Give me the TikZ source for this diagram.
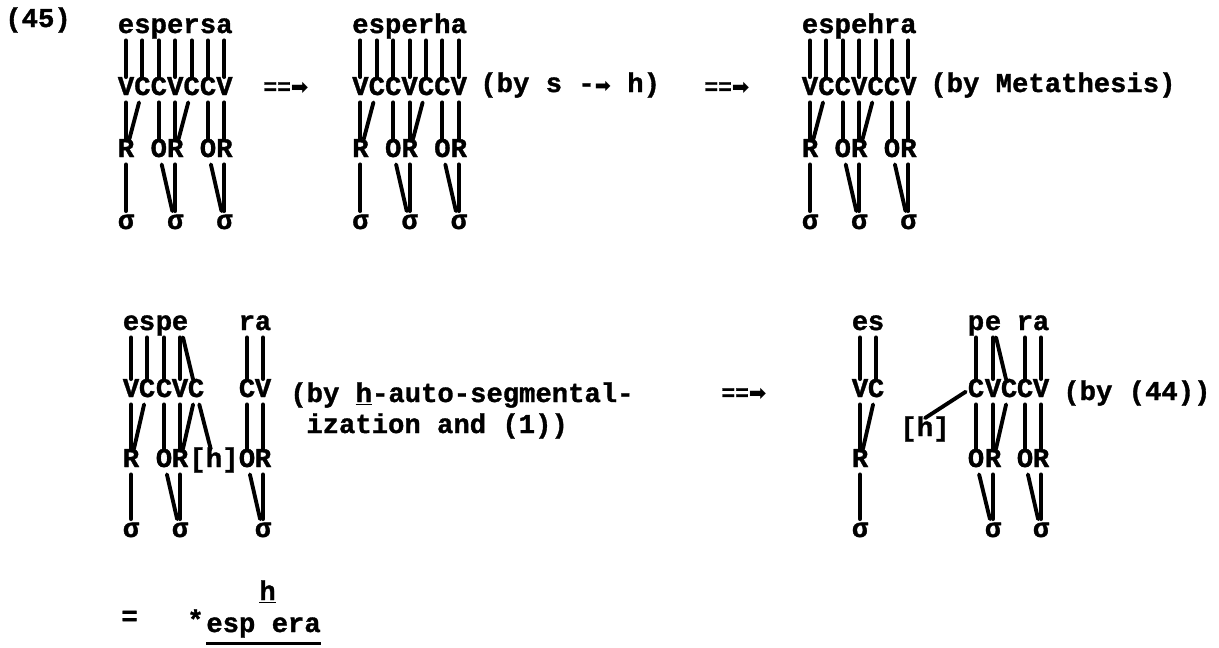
\documentclass[tikz,border=0pt]{standalone}
\usepackage{fontspec}
\newfontfamily\typer{Liberation Mono}[BoldFeatures={FakeBold=1.2}]
\newfontfamily\dingfont{DejaVu Sans}

\begin{document}
\begin{tikzpicture}[x=0.02cm,y=-0.02cm,
  seg/.style={font=\typer\bfseries\fontsize{15.5}{18}\selectfont,inner sep=1pt,text height=9pt,text depth=3pt,anchor=base},
  gloss/.style={font=\typer\bfseries\fontsize{15.5}{18}\selectfont,inner sep=0pt,anchor=base west},
  rewrite/.style={font=\typer\bfseries\fontsize{13}{13}\selectfont,inner sep=0pt},
  link/.style={line width=2.2pt,line cap=round}]
  \useasboundingbox (0,0) rectangle (1219,647);
  \node[gloss] (num) at (5,27) {(45)};
  % fila de arriba: espersa, esperha, espehra
  \foreach \d/\xo/\word in {a/109.6/{e,s,p,e,r,s,a},b/344/{e,s,p,e,r,h,a},c/793.6/{e,s,p,e,h,r,a}}{
    \foreach \l [count=\i] in \word
      \node[seg] (\d-\i) at (\xo+16.4*\i,33) {\l};
    \foreach \l [count=\i] in {V,C,C,V,C,C,V}
      \node[seg] (\d-cv\i) at (\xo+16.4*\i,95) {\l};
    \foreach \n/\k/\l in {r1/1/R,o2/3/O,r2/4/R,o3/6/O,r3/7/R}
      \node[seg] (\d-\n) at (\xo+16.4*\k,157) {\l};
    \foreach \k [count=\i] in {1,4,7}
      \node[seg] (\d-sg\i) at (\xo+16.4*\k,229) {σ};
    \foreach \i in {1,...,7}
      \draw[link] (\d-\i) -- (\d-cv\i);
    \foreach \a/\b in {cv1/r1,cv2/r1,cv3/o2,cv4/r2,cv5/r2,cv6/o3,cv7/r3,r1/sg1,o2/sg2,r2/sg2,o3/sg3,r3/sg3}
      \draw[link] (\d-\a) -- (\d-\b);
  }
  \foreach \n/\x/\y in {1/286/88,2/727/88,3/744/394}
    \node[rewrite] (arr\n) at (\x,\y) {=={\dingfont\fontsize{12}{12}\selectfont ➡}};
  \node[gloss] (rule1) at (480,92) {(by s -{\dingfont\fontsize{11}{11}\selectfont ➡} h)};
  \node[gloss] (rule2) at (930,92) {(by Metathesis)};
  % fila de abajo, izquierda
  \foreach \x/\l [count=\i] in {131/e,147/s,164/p,180/e,247/r,263/a}
    \node[seg] (d-\i) at (\x,330) {\l};
  \foreach \x/\l [count=\i] in {131/V,147/C,164/C,180/V,196/C,247/C,263/V}
    \node[seg] (d-cv\i) at (\x,397) {\l};
  \foreach \x/\n/\l in {131/r1/R,164/o2/O,180/r2/R,247/o3/O,263/r3/R}
    \node[seg] (d-\n) at (\x,467) {\l};
  \node[seg] (d-h) at (214,467) {[h]};
  \foreach \x [count=\i] in {131,180,263}
    \node[seg] (d-sg\i) at (\x,537) {σ};
  \foreach \a/\b in {1/cv1,2/cv2,3/cv3,4/cv4,4/cv5,5/cv6,6/cv7,cv1/r1,cv2/r1,cv3/o2,cv4/r2,cv5/r2,cv5/h,cv6/o3,cv7/r3,r1/sg1,o2/sg2,r2/sg2,o3/sg3,r3/sg3}
    \draw[link] (d-\a) -- (d-\b);
  \node[gloss] (rule3) at (290,402) {(by \underline{h}-auto-segmental-};
  \node[gloss] (rule3b) at (306,433) {ization and (1))};
  % fila de abajo, derecha
  \foreach \x/\l [count=\i] in {860/e,876/s,976/p,993/e,1025/r,1041/a}
    \node[seg] (e-\i) at (\x,330) {\l};
  \foreach \x/\l [count=\i] in {860/V,876/C,976/C,993/V,1009/C,1025/C,1041/V}
    \node[seg] (e-cv\i) at (\x,397) {\l};
  \foreach \x/\n/\l in {860/r1/R,976/o2/O,993/r2/R,1025/o3/O,1041/r3/R}
    \node[seg] (e-\n) at (\x,467) {\l};
  \node[seg] (e-h) at (925,436) {[h]};
  \foreach \x [count=\i] in {860,993,1041}
    \node[seg] (e-sg\i) at (\x,537) {σ};
  \foreach \a/\b in {1/cv1,2/cv2,3/cv3,4/cv4,4/cv5,5/cv6,6/cv7,cv1/r1,cv2/r1,cv3/o2,cv4/r2,cv5/r2,cv6/o3,cv7/r3,r1/sg1,o2/sg2,r2/sg2,o3/sg3,r3/sg3}
    \draw[link] (e-\a) -- (e-\b);
  \draw[link] (e-cv3.west) -- (e-h.north);
  \node[gloss] (rule4) at (1063,400) {(by (44))};
  % resultado
  \node[gloss] (eq) at (121,625) {=};
  \node[gloss] (star) at (187,629) {*};
  \node[gloss] (res) at (206,632) {esp era};
  \node[gloss] (hh) at (259,600) {\underline{h}};
  \draw[line width=1.6pt] ([yshift=-3pt]res.south west) -- ([yshift=-3pt]res.south east);
\end{tikzpicture}
\end{document}
